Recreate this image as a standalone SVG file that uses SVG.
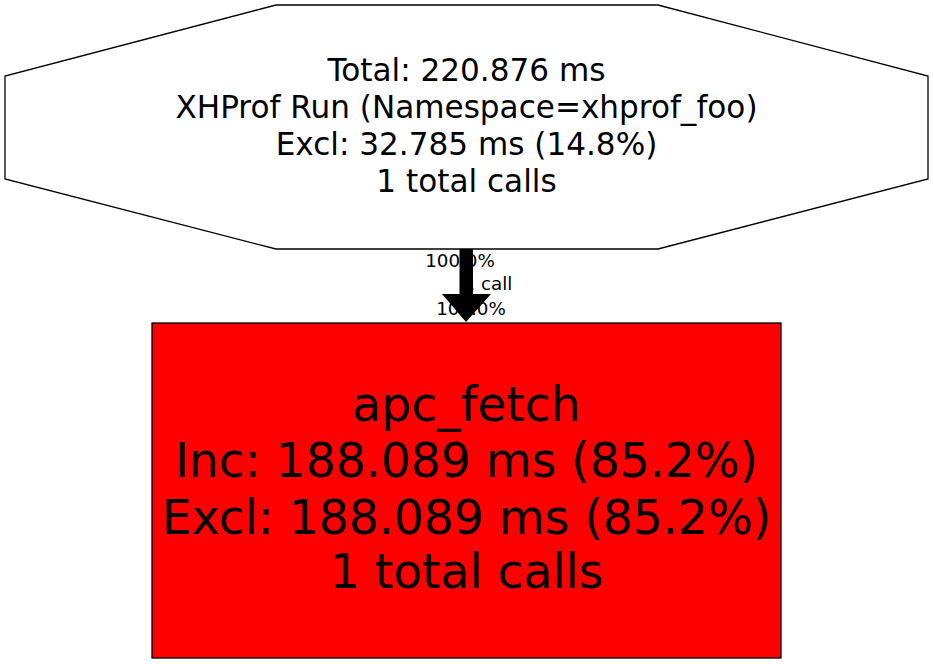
<svg xmlns="http://www.w3.org/2000/svg" width="933" height="664" viewBox="0 0 933 664">
<style>
text { font-family: "DejaVu Sans", "Liberation Sans", sans-serif; text-anchor: middle; fill: #000; }
.n1 { font-size: 31.1px; }
.n2 { font-size: 47.2px; }
.el { font-size: 18.3px; }
</style>
<rect width="933" height="664" fill="#fff"/>
<g id="node-main">
<polygon points="276,5 658,5 928,76 928,179 658,249 276,249 5,179 5,76" fill="#fff" stroke="#000" stroke-width="1.3"/>
<text class="n1" x="466.5" y="81">Total: 220.876 ms</text>
<text class="n1" x="466.5" y="118">XHProf Run (Namespace=xhprof_foo)</text>
<text class="n1" x="466.5" y="155">Excl: 32.785 ms (14.8%)</text>
<text class="n1" x="466.5" y="192">1 total calls</text>
</g>
<g id="node-apc_fetch">
<rect x="152" y="323" width="629" height="335" fill="#ff0000" stroke="#000" stroke-width="1.3"/>
<text class="n2" x="466.5" y="421">apc_fetch</text>
<text class="n2" x="466.5" y="477">Inc: 188.089 ms (85.2%)</text>
<text class="n2" x="466.5" y="534">Excl: 188.089 ms (85.2%)</text>
<text class="n2" x="466.5" y="588">1 total calls</text>
</g>
<g id="connectors">
<g id="edge-main-apc_fetch">
<text class="el" x="460" y="267">100.0%</text>
<text class="el" x="488" y="290">1 call</text>
<text class="el" x="471" y="315">100.0%</text>
<rect x="459.5" y="249" width="13.5" height="46" fill="#000"/>
<polygon points="442,294 491,294 466,322" fill="#000"/>
</g>
</g>
</svg>
